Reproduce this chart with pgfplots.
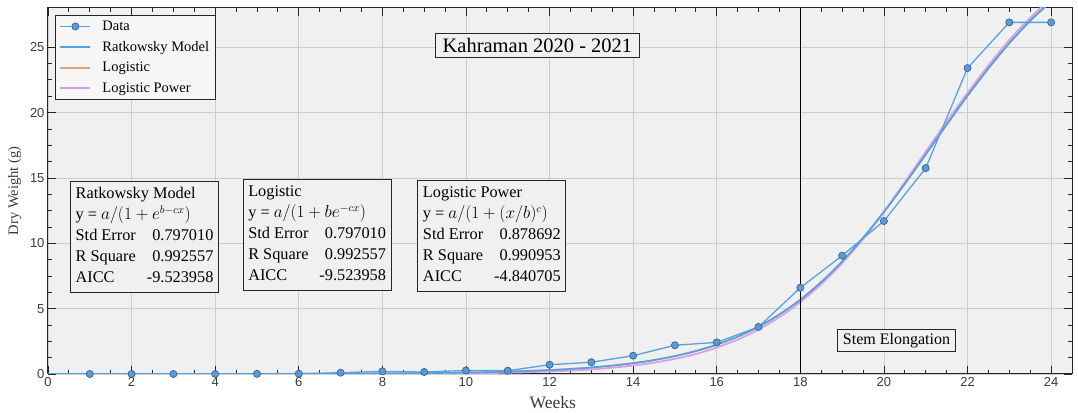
\documentclass[border=0pt]{standalone}
\usepackage{fontspec}
\setmainfont{Liberation Serif}
\newfontfamily\ticksans{Liberation Sans}
\usepackage{pgfplots}
\pgfplotsset{compat=1.18}

\definecolor{bgc}{HTML}{F0F0F0}
\definecolor{gridc}{HTML}{CDCDCD}
\definecolor{axc}{HTML}{262626}
\definecolor{tlc}{HTML}{3A3A3A}
\definecolor{datal}{HTML}{5AA2DC}
\definecolor{datam}{HTML}{5B9BD5}
\definecolor{datae}{HTML}{2F5C8A}
\definecolor{ratk}{HTML}{4FA3E3}
\definecolor{logi}{HTML}{D9A47A}
\definecolor{lpow}{HTML}{D6A2E6}

% weekly dry weight measurements
\pgfplotstableread{
x y
1 0.00
2 0.00
3 0.00
4 0.00
5 0.01
6 0.02
7 0.10
8 0.20
9 0.15
10 0.27
11 0.25
12 0.71
13 0.90
14 1.40
15 2.20
16 2.42
17 3.60
18 6.60
19 9.05
20 11.70
21 15.75
22 23.40
23 26.90
24 26.90
}\measured

% fitted Ratkowsky / Logistic curve (identical fits)
\pgfplotstableread{
x y
0 0.0006
2 0.0017
4 0.0047
6 0.0132
8 0.0374
9 0.0629
10 0.1057
11 0.1773
12 0.2973
12.5 0.3846
13 0.4972
13.5 0.642
14 0.828
14.5 1.066
15 1.371
15.5 1.757
16 2.245
16.5 2.857
17 3.619
17.5 4.554
18 5.686
18.5 7.035
19 8.610
19.5 10.41
20 12.40
20.5 14.55
21 16.80
21.5 19.07
22 21.29
22.5 23.38
23 25.31
23.5 27.02
24 28.51
}\sigmoid

% fitted Logistic Power curve
\pgfplotstableread{
x y
0 0.0
2 0.0001
4 0.001
6 0.004
8 0.015
9 0.03
10 0.055
11 0.10
12 0.19
12.5 0.26
13 0.35
13.5 0.48
14 0.65
14.5 0.87
15 1.16
15.5 1.53
16 2.02
16.5 2.63
17 3.40
17.5 4.35
18 5.50
18.5 6.87
19 8.47
19.5 10.32
20 12.40
20.5 14.68
21 17.00
21.5 19.30
22 21.50
22.5 23.60
23 25.55
23.5 27.25
24 28.75
}\lpower

\begin{document}
\begin{tikzpicture}[
  box/.style={draw=axc, line width=1pt, fill=bgc, inner xsep=5pt, inner ysep=3pt}]
\begin{axis}[
  scale only axis, width=1024pt, height=366pt,
  xmin=0, xmax=24.5, ymin=0, ymax=28,
  xtick={0,2,...,24}, ytick={0,5,...,25},
  minor x tick num=3, minor y tick num=3,
  grid=major, major grid style={line width=0.8pt, color=gridc},
  axis background/.style={fill=bgc},
  axis line style={line width=1pt, color=axc},
  tick style={color=axc, line width=0.8pt},
  major tick length=8pt, minor tick length=4pt,
  tick align=inside,
  /pgf/number format/assume math mode=true,
  ticklabel style={font=\ticksans\fontsize{13}{13}\selectfont, color=tlc},
  xlabel={Weeks}, ylabel={Dry Weight (g)},
  xlabel style={font=\fontsize{17.5}{18}\selectfont, color=tlc, at={(axis description cs:0.493,-0.079)}, anchor=center},
  ylabel style={font=\fontsize{14.5}{15}\selectfont, color=tlc, at={(axis description cs:-0.0325,0.5)}, anchor=center},
  legend cell align=left,
  legend style={at={(axis description cs:0.0068,0.981)}, anchor=north west,
    draw=axc, line width=1pt, fill=bgc!60!white,
    font=\fontsize{14.5}{15}\selectfont,
    nodes={inner ysep=1pt},
    row sep=7.3pt, inner xsep=4pt, inner ysep=4.5pt,
    /tikz/every odd column/.append style={column sep=9pt}},
  legend image code/.code={%
    \draw[mark repeat=2, mark phase=2, #1] plot coordinates {(0pt,0pt) (15pt,0pt) (30pt,0pt)};},
]
\addlegendimage{datal, line width=1.5pt, mark=*, mark size=3.6pt, mark options={fill=datam, draw=datae, line width=0.6pt}}
\addlegendentry{Data}
\addlegendimage{ratk, line width=2pt}
\addlegendentry{Ratkowsky Model}
\addlegendimage{logi, line width=2pt}
\addlegendentry{Logistic}
\addlegendimage{lpow, line width=2pt}
\addlegendentry{Logistic Power}

\addplot[forget plot, logi, line width=1.8pt, smooth] table {\sigmoid};
\addplot[forget plot, lpow, line width=1.8pt, smooth] table {\lpower};
\addplot[forget plot, ratk, line width=1.6pt, smooth] table {\sigmoid};
\addplot[forget plot, datal, line width=1.3pt, mark=*, mark size=3.6pt, mark options={fill=datam, draw=datae, line width=0.6pt}] table {\measured};

% start of stem elongation
\addplot[forget plot, black, line width=1.3pt] coordinates {(18,0) (18,28)};

\node[box, font=\fontsize{20.5}{24}\selectfont, inner xsep=7pt, inner ysep=5pt] at (axis cs:11.71,25.15) {Kahraman 2020 - 2021};
\node[box, font=\fontsize{16}{18}\selectfont, inner ysep=4pt] at (axis cs:20.30,2.56) {Stem Elongation};

\node[box, font=\fontsize{16.3}{21}\selectfont] at (axis cs:2.31,10.51) {%
  \begin{tabular}{@{}l@{\hspace{11pt}}r@{}}
  \multicolumn{2}{@{}l@{}}{Ratkowsky Model}\\
  \multicolumn{2}{@{}l@{}}{y = $a/(1+e^{b-cx})$}\\
  Std Error & 0.797010\\
  R Square & 0.992557\\
  AICC & -9.523958
  \end{tabular}};
\node[box, font=\fontsize{16.3}{21}\selectfont] at (axis cs:6.44,10.66) {%
  \begin{tabular}{@{}l@{\hspace{11pt}}r@{}}
  \multicolumn{2}{@{}l@{}}{Logistic}\\
  \multicolumn{2}{@{}l@{}}{y = $a/(1+be^{-cx})$}\\
  Std Error & 0.797010\\
  R Square & 0.992557\\
  AICC & -9.523958
  \end{tabular}};
\node[box, font=\fontsize{16.3}{21}\selectfont] at (axis cs:10.62,10.59) {%
  \begin{tabular}{@{}l@{\hspace{11pt}}r@{}}
  \multicolumn{2}{@{}l@{}}{Logistic Power}\\
  \multicolumn{2}{@{}l@{}}{y = $a/(1+(x/b)^{c})$}\\
  Std Error & 0.878692\\
  R Square & 0.990953\\
  AICC & -4.840705
  \end{tabular}};
\end{axis}
\path ([shift={(-48pt,-35pt)}]current axis.south west) rectangle ([shift={(6pt,8pt)}]current axis.north east);
\end{tikzpicture}
\end{document}
